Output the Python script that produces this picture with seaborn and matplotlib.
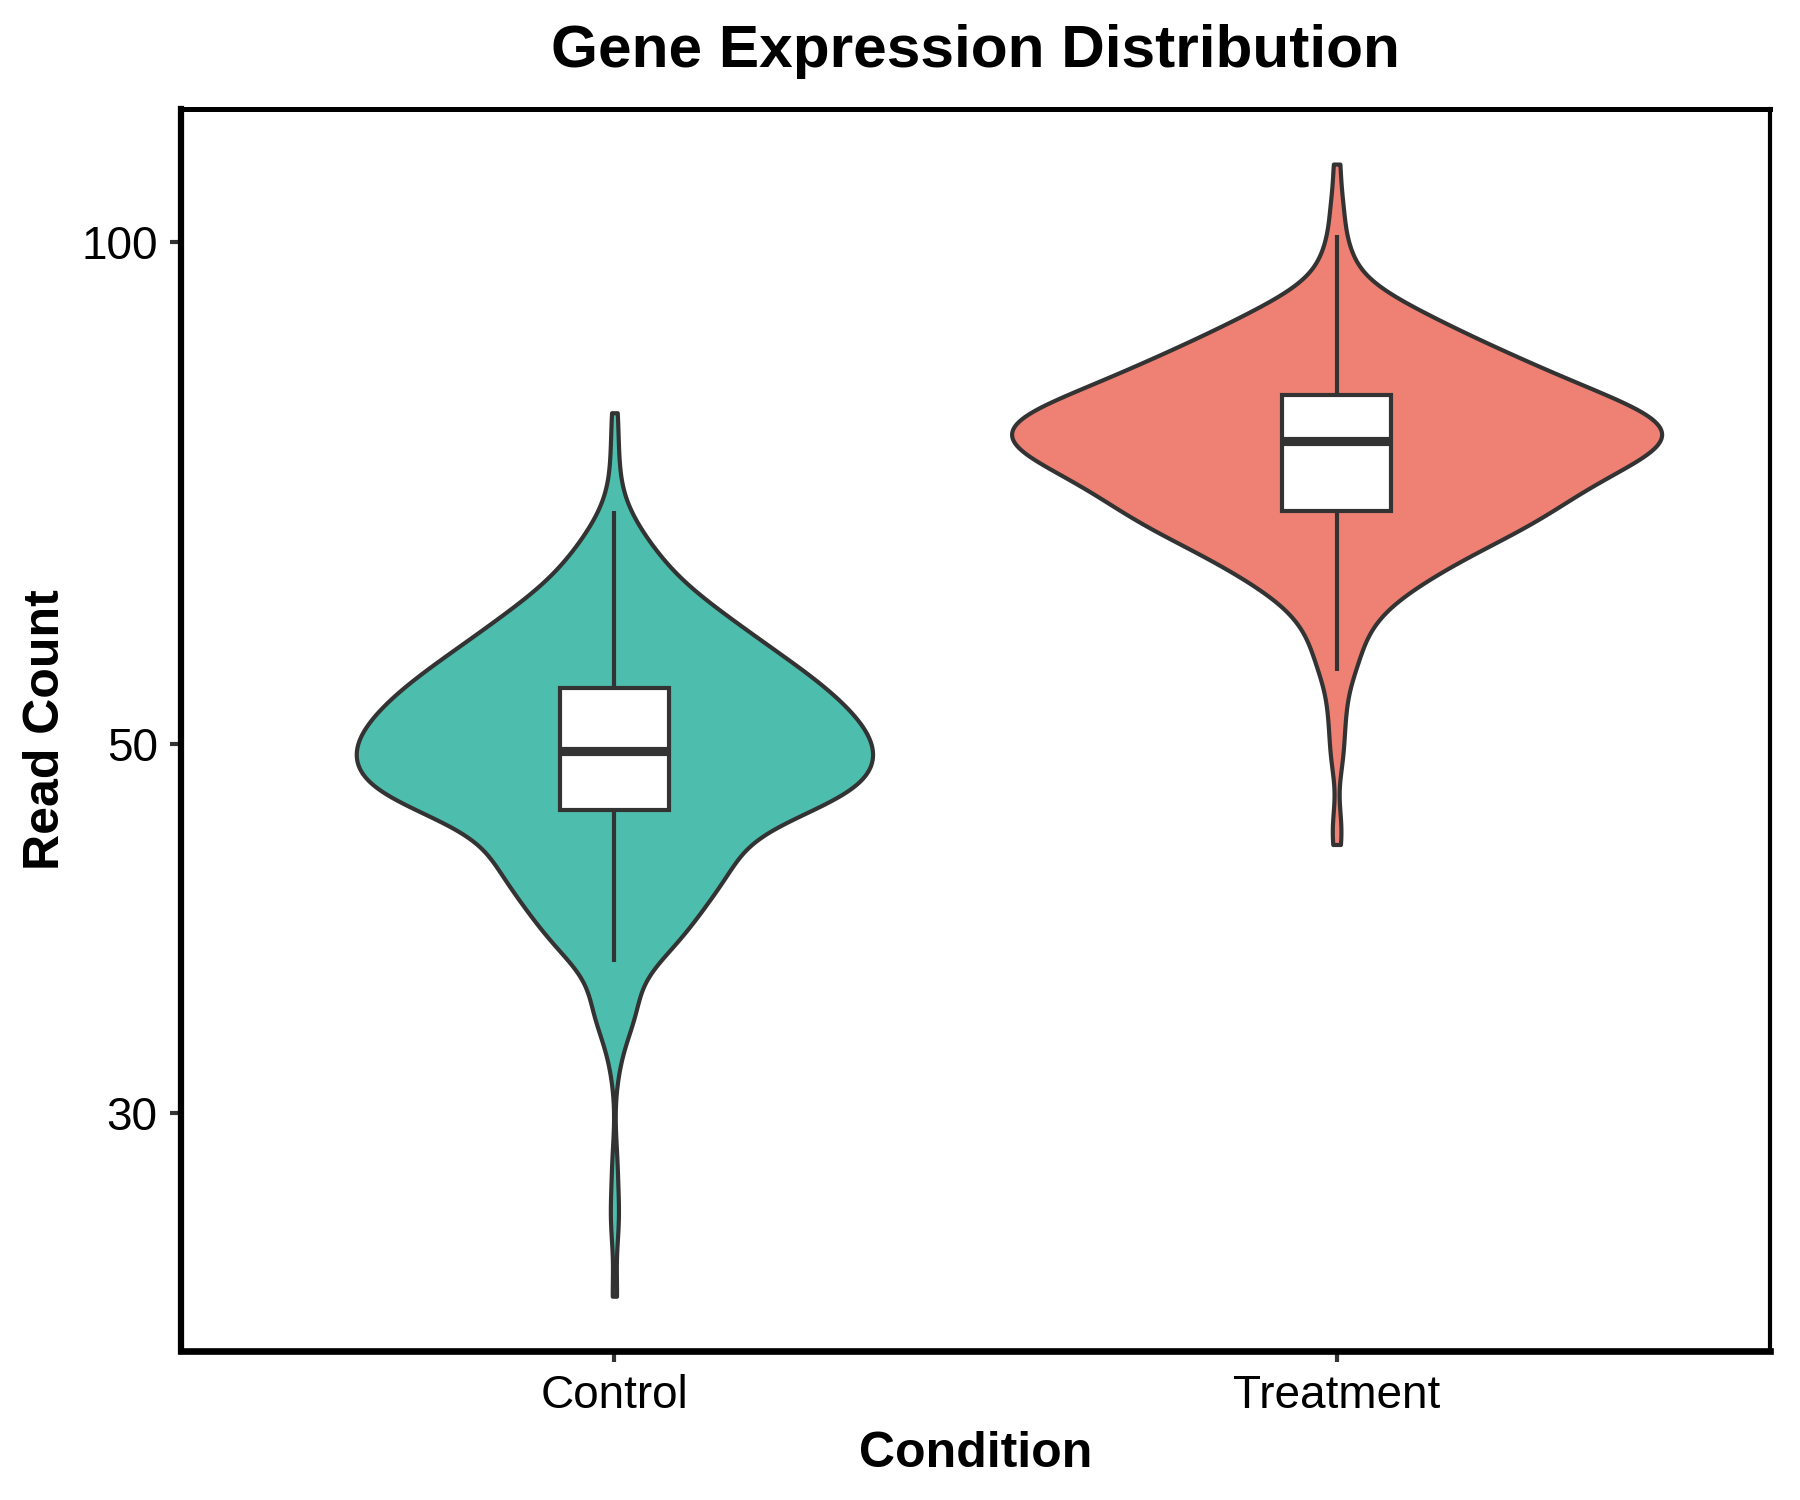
import numpy as np
import pandas as pd
import matplotlib
matplotlib.use("Agg")
import matplotlib.pyplot as plt
import seaborn as sns
from matplotlib.ticker import FixedLocator, FixedFormatter, NullLocator

# read counts per condition, as value -> number of genes
control_values = [23.3, 25.6, 26.4, 28.0, 32.0, 33.0, 33.8, 34.6, 35.1, 37.0,
                  38, 39, 40, 41, 42, 43, 44, 45, 45.6, 46,
                  47, 48, 49, 50, 51, 52, 53, 54, 55, 56,
                  57, 58, 59, 60, 61, 62, 63, 64, 65, 66,
                  67, 68, 69, 72, 75, 79]
control_counts = [1, 1, 1, 1, 1, 1, 2, 3, 4, 8,
                  9, 11, 12, 14, 15, 16, 17, 7, 13, 25,
                  28, 30, 29, 29, 27, 25, 23, 22, 19, 17,
                  15, 13, 11, 10, 8, 6, 5, 4, 4, 3,
                  2, 1, 2, 1, 1, 1]
treatment_values = [43.5, 45.0, 48.5, 49.8, 51.0, 52.2, 53.2, 54.0, 55.3, 56,
                    57, 58, 59, 60, 61, 62, 63, 64, 65, 66,
                    67, 68, 69, 70, 71, 72, 73, 74, 75, 76,
                    77, 78, 79, 80, 81, 82, 83, 84, 85, 86,
                    87, 88, 89, 90, 91, 92, 93, 94, 95, 96,
                    97, 98, 99, 101, 103.8, 106.0, 111.4]
treatment_counts = [1, 1, 1, 1, 1, 1, 1, 1, 2, 2,
                    2, 3, 3, 4, 5, 7, 8, 10, 11, 13,
                    15, 16, 18, 17, 19, 20, 21, 22, 24, 25,
                    24, 24, 22, 20, 18, 16, 15, 13, 12, 11,
                    9, 8, 7, 6, 5, 4, 3, 2, 1, 1,
                    1, 1, 1, 1, 1, 1, 1]
conditions = ["Control", "Treatment"]
colors = ["#4DBEAD", "#EF8174"]
y_ticks = [30, 50, 100]

df = pd.concat([
    pd.DataFrame({"Condition": "Control",
                  "Read Count": np.repeat(control_values, control_counts)}),
    pd.DataFrame({"Condition": "Treatment",
                  "Read Count": np.repeat(treatment_values, treatment_counts)}),
], ignore_index=True)

sns.set_theme(style="white")
plt.rcParams["font.family"] = ["Liberation Sans", "DejaVu Sans"]
plt.rcParams["text.color"] = "black"
plt.rcParams["axes.labelcolor"] = "black"

fig = plt.figure(figsize=(6, 5), dpi=300)
ax = fig.add_axes([0.1006, 0.0993, 0.8827, 0.828])

# no hue here, so "area" scaling is shared by both violins
sns.violinplot(data=df, x="Condition", y="Read Count", order=conditions,
               color=colors[0], inner=None, cut=0, bw_adjust=0.8,
               gridsize=400, density_norm="area", width=0.9, linewidth=1.0,
               linecolor="#333333", saturation=1, log_scale=True, ax=ax)
for coll, col in zip(ax.collections, colors):
    coll.set_facecolor(col)

sns.boxplot(data=df, x="Condition", y="Read Count", order=conditions,
            color="white", width=0.15, showfliers=False, showcaps=False,
            linewidth=1.0, linecolor="#333333", saturation=1,
            medianprops=dict(linewidth=2.2, color="#333333"),
            log_scale=True, ax=ax)

ax.set_xlim(-0.6, 1.6)
ax.set_ylim(21.6, 120.2)
ax.yaxis.set_major_locator(FixedLocator(y_ticks))
ax.yaxis.set_major_formatter(FixedFormatter([str(t) for t in y_ticks]))
ax.yaxis.set_minor_locator(NullLocator())

for side, lw in [("left", 1.5), ("bottom", 1.6), ("right", 1.0), ("top", 1.2)]:
    ax.spines[side].set_visible(True)
    ax.spines[side].set_color("black")
    ax.spines[side].set_linewidth(lw)

ax.tick_params(axis="both", direction="out", length=2.6, width=1.0,
               color="#333333", labelsize=11, labelcolor="black", pad=3,
               left=True, bottom=True)

ax.set_title("Gene Expression Distribution", fontsize=14.5, weight="bold",
             pad=10, color="black")
ax.set_xlabel("Condition", fontsize=12, weight="bold", labelpad=3)
ax.set_ylabel("Read Count", fontsize=12, weight="bold", labelpad=3)

fig.savefig("out.png", dpi=300)
